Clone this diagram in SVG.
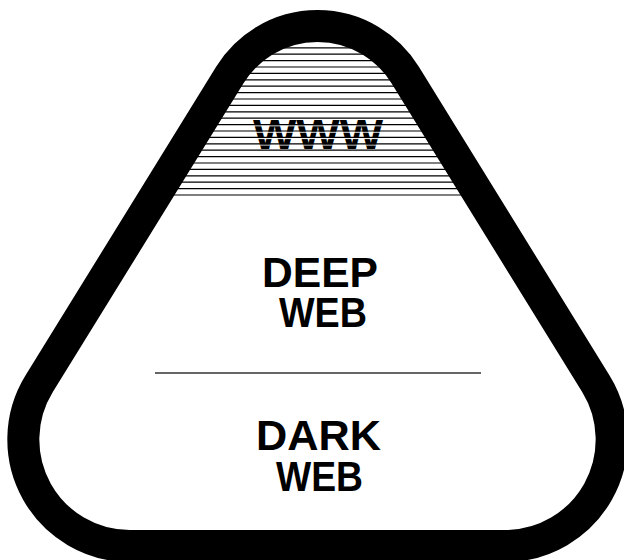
<svg xmlns="http://www.w3.org/2000/svg" width="624" height="560" viewBox="0 0 624 560">
  <style>
    .lbl { font-family: "Liberation Sans", Arial, sans-serif; font-weight: bold; font-size: 42px; fill: #000; text-anchor: middle; }
    .hatch { stroke: #000; stroke-width: 1.2; }
    .hatch-w { stroke: #fff; stroke-width: 1; }
    .outline { fill: none; stroke: #000; stroke-width: 32; stroke-linejoin: round; }
    .divider { stroke: #333; stroke-width: 1.5; }
  </style>
  <defs>
    <path id="shape" d="M 229.9 74.9 A 103 103 0 0 1 405.1 74.9 L 595.8 383.7 A 106.4 106.4 0 0 1 505.3 546 L 129.7 546 A 106.4 106.4 0 0 1 39.2 383.7 Z"/>
    <clipPath id="inside">
      <use href="#shape"/>
    </clipPath>
  </defs>
  <rect width="624" height="560" fill="#fff"/>

  <g id="www">
    <text class="lbl" x="318" y="149" textLength="130" lengthAdjust="spacingAndGlyphs">WWW</text>
    <g clip-path="url(#inside)">
      <g class="hatch-w">
        <line x1="0" x2="624" y1="49" y2="49"/>
        <line x1="0" x2="624" y1="55.4" y2="55.4"/>
        <line x1="0" x2="624" y1="61.8" y2="61.8"/>
        <line x1="0" x2="624" y1="68.2" y2="68.2"/>
        <line x1="0" x2="624" y1="74.6" y2="74.6"/>
        <line x1="0" x2="624" y1="81" y2="81"/>
        <line x1="0" x2="624" y1="87.4" y2="87.4"/>
        <line x1="0" x2="624" y1="93.8" y2="93.8"/>
        <line x1="0" x2="624" y1="100.2" y2="100.2"/>
        <line x1="0" x2="624" y1="106.6" y2="106.6"/>
        <line x1="0" x2="624" y1="113" y2="113"/>
        <line x1="0" x2="624" y1="119.4" y2="119.4"/>
        <line x1="0" x2="624" y1="125.8" y2="125.8"/>
        <line x1="0" x2="624" y1="132.2" y2="132.2"/>
        <line x1="0" x2="624" y1="138.6" y2="138.6"/>
        <line x1="0" x2="624" y1="145" y2="145"/>
        <line x1="0" x2="624" y1="151.4" y2="151.4"/>
        <line x1="0" x2="624" y1="157.8" y2="157.8"/>
        <line x1="0" x2="624" y1="164.2" y2="164.2"/>
        <line x1="0" x2="624" y1="170.6" y2="170.6"/>
        <line x1="0" x2="624" y1="177" y2="177"/>
        <line x1="0" x2="624" y1="183.4" y2="183.4"/>
        <line x1="0" x2="624" y1="189.8" y2="189.8"/>
        <line x1="0" x2="624" y1="196.2" y2="196.2"/>
      </g>
      <g class="hatch">
        <line x1="0" x2="624" y1="47.8" y2="47.8"/>
        <line x1="0" x2="624" y1="54.2" y2="54.2"/>
        <line x1="0" x2="624" y1="60.6" y2="60.6"/>
        <line x1="0" x2="624" y1="67" y2="67"/>
        <line x1="0" x2="624" y1="73.4" y2="73.4"/>
        <line x1="0" x2="624" y1="79.8" y2="79.8"/>
        <line x1="0" x2="624" y1="86.2" y2="86.2"/>
        <line x1="0" x2="624" y1="92.6" y2="92.6"/>
        <line x1="0" x2="624" y1="99" y2="99"/>
        <line x1="0" x2="624" y1="105.4" y2="105.4"/>
        <line x1="0" x2="624" y1="111.8" y2="111.8"/>
        <line x1="0" x2="624" y1="118.2" y2="118.2"/>
        <line x1="0" x2="624" y1="124.6" y2="124.6"/>
        <line x1="0" x2="624" y1="131" y2="131"/>
        <line x1="0" x2="624" y1="137.4" y2="137.4"/>
        <line x1="0" x2="624" y1="143.8" y2="143.8"/>
        <line x1="0" x2="624" y1="150.2" y2="150.2"/>
        <line x1="0" x2="624" y1="156.6" y2="156.6"/>
        <line x1="0" x2="624" y1="163" y2="163"/>
        <line x1="0" x2="624" y1="169.4" y2="169.4"/>
        <line x1="0" x2="624" y1="175.8" y2="175.8"/>
        <line x1="0" x2="624" y1="182.2" y2="182.2"/>
        <line x1="0" x2="624" y1="188.6" y2="188.6"/>
        <line x1="0" x2="624" y1="195" y2="195"/>
      </g>
    </g>
  </g>

  <g id="deep-web">
    <text class="lbl" x="320" y="287" textLength="116" lengthAdjust="spacingAndGlyphs">DEEP</text>
    <text class="lbl" x="323" y="327" textLength="88" lengthAdjust="spacingAndGlyphs">WEB</text>
  </g>

  <g id="connectors">
    <line class="divider" x1="155" y1="373" x2="481" y2="373"/>
  </g>

  <g id="dark-web">
    <text class="lbl" x="318.5" y="450" textLength="125" lengthAdjust="spacingAndGlyphs">DARK</text>
    <text class="lbl" x="319.5" y="491" textLength="87" lengthAdjust="spacingAndGlyphs">WEB</text>
  </g>

  <g id="outline">
    <use href="#shape" class="outline"/>
  </g>
</svg>
